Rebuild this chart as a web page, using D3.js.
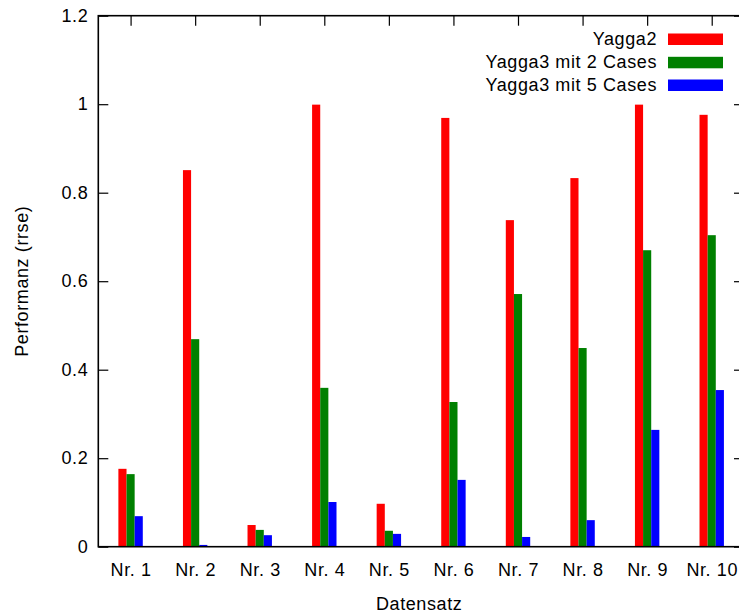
<!DOCTYPE html>
<html>
<head>
<meta charset="utf-8">
<script src="https://cdn.jsdelivr.net/npm/d3@7"></script>
<style>
  html, body { margin: 0; padding: 0; background: #fff; }
  svg { display: block; }
  text { font-family: "Liberation Sans", Arial, Helvetica, sans-serif; font-size: 18px; letter-spacing: 0.6px; fill: #000; }
</style>
</head>
<body>
<svg id="chart" width="739" height="614"></svg>
<script>
const categories = ["Nr. 1", "Nr. 2", "Nr. 3", "Nr. 4", "Nr. 5", "Nr. 6", "Nr. 7", "Nr. 8", "Nr. 9", "Nr. 10"];
const seriesNames = ["Yagga2", "Yagga3 mit 2 Cases", "Yagga3 mit 5 Cases"];
const seriesColors = ["#ff0000", "#008000", "#0000ff"];
const yagga2      = [0.176, 0.851, 0.049, 0.999, 0.097, 0.969, 0.738, 0.833, 0.999, 0.976];
const yagga3Cases2 = [0.164, 0.469, 0.038, 0.359, 0.036, 0.327, 0.571, 0.449, 0.670, 0.704];
const yagga3Cases5 = [0.069, 0.004, 0.026, 0.101, 0.029, 0.151, 0.022, 0.060, 0.264, 0.354];
const yTicks = [0, 0.2, 0.4, 0.6, 0.8, 1, 1.2];
const yTickLabels = ["0", "0.2", "0.4", "0.6", "0.8", "1", "1.2"];

const series = [yagga2, yagga3Cases2, yagga3Cases5];

const svg = d3.select("#chart");
const L = 98.3, R = 744, T = 15.7, B = 546.7;

const x = d3.scaleLinear().domain([-0.5, categories.length - 0.5]).range([L, R]);
const y = d3.scaleLinear().domain([0, 1.2]).range([B, T]);
const barW = 0.126; // in category units

// bottom axis (ticks inward, drawn under bars)
const xAxis = d3.axisBottom(x)
  .tickValues(d3.range(categories.length))
  .tickFormat(i => categories[i])
  .tickSizeInner(-10).tickSizeOuter(0).tickPadding(17);
const gx = svg.append("g").attr("transform", `translate(0,${B})`).call(xAxis);
gx.select(".domain").remove();
gx.selectAll("line").attr("stroke", "#000").attr("stroke-width", 1.2);
gx.selectAll("text").style("font-size", "18px").attr("fill", "#000");

// top ticks
const xTop = d3.axisTop(x).tickValues(d3.range(categories.length)).tickFormat("")
  .tickSizeInner(-10).tickSizeOuter(0);
const gxt = svg.append("g").attr("transform", `translate(0,${T})`).call(xTop);
gxt.select(".domain").remove();
gxt.selectAll("line").attr("stroke", "#000").attr("stroke-width", 1.2);

// left axis
const yAxis = d3.axisLeft(y).tickValues(yTicks).tickFormat((d, i) => yTickLabels[i])
  .tickSizeInner(-10).tickSizeOuter(0).tickPadding(10);
const gy = svg.append("g").attr("transform", `translate(${L},0)`).call(yAxis);
gy.select(".domain").remove();
gy.selectAll("line").attr("stroke", "#000").attr("stroke-width", 1.2);
gy.selectAll("text").style("font-size", "18px").attr("fill", "#000");

// right ticks
const yRight = d3.axisRight(y).tickValues(yTicks).tickFormat("")
  .tickSizeInner(-10).tickSizeOuter(0);
const gyr = svg.append("g").attr("transform", `translate(${R},0)`).call(yRight);
gyr.select(".domain").remove();
gyr.selectAll("line").attr("stroke", "#000").attr("stroke-width", 1.2);

// bars
series.forEach((vals, s) => {
  svg.append("g").selectAll("rect").data(vals).join("rect")
    .attr("x", (d, i) => x(i + (s - 1.5) * barW))
    .attr("width", (d, i) => x(i + (s - 0.5) * barW) - x(i + (s - 1.5) * barW))
    .attr("y", d => y(d))
    .attr("height", d => y(0) - y(d))
    .attr("fill", seriesColors[s]);
});

// frame
svg.append("rect").attr("x", L).attr("y", T).attr("width", R - L).attr("height", B - T)
  .attr("fill", "none").attr("stroke", "#000").attr("stroke-width", 1.6);

// legend
const legendRows = [45, 68.3, 91];
seriesNames.forEach((name, s) => {
  svg.append("text").attr("x", 657).attr("y", legendRows[s]).attr("text-anchor", "end").text(name);
  svg.append("rect").attr("x", 668).attr("y", legendRows[s] - 11.5).attr("width", 55).attr("height", 11.5)
    .attr("fill", seriesColors[s]);
});

// axis titles
svg.append("text").attr("x", (L + R) / 2 - 2).attr("y", 610).attr("text-anchor", "middle").text("Datensatz");
svg.append("text").attr("transform", `translate(28,${(T + B) / 2}) rotate(-90)`)
  .attr("text-anchor", "middle").text("Performanz (rrse)");
</script>
</body>
</html>
